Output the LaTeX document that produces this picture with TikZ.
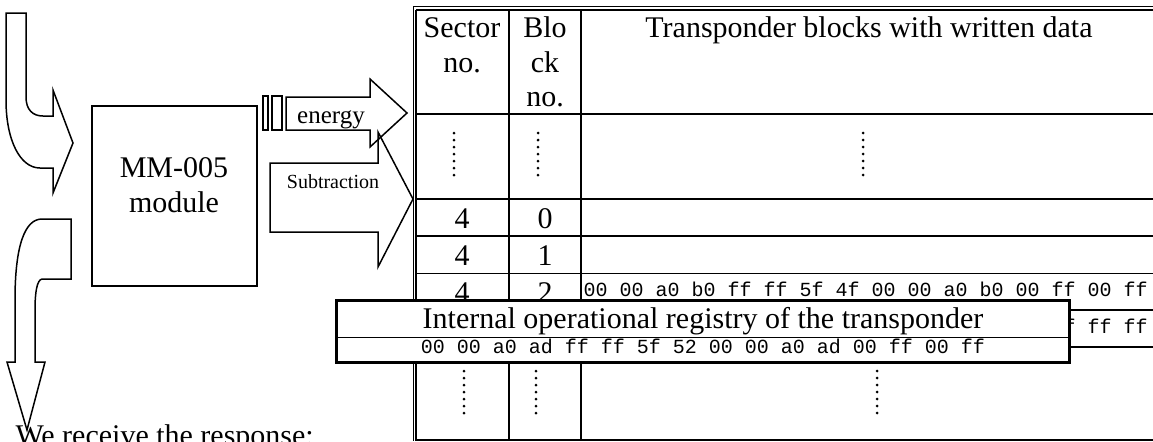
\documentclass[tikz,border=0pt]{standalone}
\usepackage{fontspec}
\setmainfont{Liberation Serif}
\setmonofont{Liberation Mono}
\usetikzlibrary{positioning}

\begin{document}
\begin{tikzpicture}[
    x=0.4pt, y=-0.4pt,
    TX/.style = {font=\fontsize{12}{13.8}\selectfont, inner sep=0pt, anchor=base},
    HX/.style = {font=\ttfamily\fontsize{8}{9.6}\selectfont, inner sep=0pt},
    BA/.style = {draw, fill=white, line width=0.6pt, line join=miter},
    grid/.style = {line width=0.8pt},
    hair/.style = {line width=0.4pt},
    dots/.style = {line width=1.2pt, line cap=round,
                    dash pattern=on 0pt off 2.8pt},
    REG/.style = {draw, fill=white, line width=1.2pt,
                    minimum width=292.8pt, minimum height=24.8pt, inner sep=0pt}]
%---
\clip (0,0) rectangle (1153,441);
\fill[white] (0,0) rectangle (1153,441);
% table frame
\draw[hair] (413,6.5) -- (1160,6.5)  (413,6.5) -- (413,441);
\draw[grid] (416,9.5) -- (1160,9.5)  (416,9.5) -- (416,440) -- (1160,440);
\draw[grid] (509,9.5) -- (509,440)   (581,9.5) -- (581,440);
\draw[grid] (416,114) -- (1160,114)  (416,199) -- (1160,199)
            (416,236) -- (1160,236)  (416,310) -- (1160,310)
            (416,347) -- (1160,347);
\draw[hair] (416,273) -- (1160,273);
% header
\node (sec)   [TX] at (462,37)  {Sector};
\node (secno) [TX] at (462,72)  {no.};
\node (blk)   [TX] at (545,37)  {Blo};
\node (blkck) [TX] at (545,72)  {ck};
\node (blkno) [TX] at (545,106) {no.};
\node (data)  [TX] at (869,37)  {Transponder blocks with written data};
% rows
\foreach \r/\y in {0/228, 1/265, 2/302}
{
\node (s\r) [TX] at (462,\y) {4};
\node (b\r) [TX] at (545,\y) {\r};
}
\node (hex2) [HX,anchor=base west] at (583,296)
    {00 00 a0 b0 ff ff 5f 4f 00 00 a0 b0 00 ff 00 ff};
\node (hex3) [HX,anchor=base west] at (1051,333) {ff ff ff};
% dotted cells
\draw[dots] (454,133) -- (454,181)  (538,133) -- (538,181)  (863,133) -- (863,181);
\draw[dots] (464,371) -- (464,419)  (536,371) -- (536,419)  (877,371) -- (877,419);
% registry box
\node (reg) [REG] at (703,331) {};
\draw[hair] (reg.west |- 0,337) -- (reg.east |- 0,337);
\node (regt) [TX] at (703,328) {Internal operational registry of the transponder};
\node (regh) [HX,anchor=base] at (703,353)
    {00 00 a0 ad ff ff 5f 52 00 00 a0 ad 00 ff 00 ff};
% module
\node (mod) [draw, line width=0.6pt, minimum width=66pt, minimum height=72pt]
    at (174.5,196) {};
\node (modA) [TX] at (174,177) {MM-005};
\node (modB) [TX] at (174,212) {module};
% arrows to the table
\draw[BA] (263,96) rectangle (268,130)  (272,96) rectangle (282,130);
\draw[BA] (270,163) -- (378,163) -- (378,132) -- (413,199) -- (378,267)
          -- (378,232) -- (270,232) -- cycle;
\draw[BA, fill=none] (286,97) -- (370,97) -- (370,79) -- (407,113) -- (370,147)
          -- (370,130) -- (286,130) -- cycle;
\node (en)  [TX, font=\fontsize{10}{12}\selectfont] at (331,123) {energy};
\node (sub) [TX, font=\fontsize{8}{9.6}\selectfont] at (333,188) {Subtraction};
% left arrows
\draw[BA] (6,13) -- (26,13) -- (26,97) .. controls (26,110) and (33,116) .. (43,116)
          -- (53,116) -- (53,90) -- (73,143) -- (53,193) -- (53,168) -- (40,168)
          .. controls (20,168) and (6,140) .. (6,100) -- cycle;
\draw[BA] (42,219) -- (71,219) -- (71,279) -- (42,279)
          .. controls (37,280) and (35,292) .. (35,310) -- (35,362) -- (45,362)
          -- (27,430) -- (7,362) -- (15,362) -- (15,300)
          .. controls (15,245) and (25,219) .. (42,219) -- cycle;
\node (resp) [TX, anchor=base west] at (15,445) {We receive the response:};
\end{tikzpicture}
\end{document}
